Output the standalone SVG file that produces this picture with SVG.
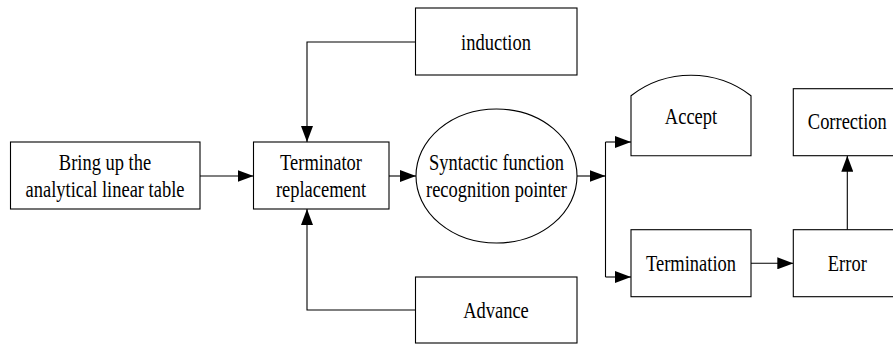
<svg xmlns="http://www.w3.org/2000/svg" width="893" height="344" viewBox="0 0 893 344">
<style>
.box{fill:#fff;stroke:#000;stroke-width:1.1}
.c{fill:none;stroke:#000;stroke-width:1.1}
text{font-family:"Liberation Serif","Times New Roman",serif;font-size:24px;fill:#000;text-anchor:middle}
</style>
<defs>
<marker id="ah" markerUnits="userSpaceOnUse" markerWidth="16" markerHeight="12" refX="16" refY="6" orient="auto">
<path d="M0,0 L16,6 L0,12 z" fill="#000"/>
</marker>
</defs>
<rect width="893" height="344" fill="#fff"/>
<g id="connectors">
<path class="c" d="M415.5,42 H307 V142" marker-end="url(#ah)"/>
<path class="c" d="M415.5,310 H307 V209" marker-end="url(#ah)"/>
<path class="c" d="M200,176 H253.5" marker-end="url(#ah)"/>
<path class="c" d="M389,176 H416" marker-end="url(#ah)"/>
<path class="c" d="M577,176 H605.5" marker-end="url(#ah)"/>
<path class="c" d="M605.5,142 V277"/>
<path class="c" d="M605.5,142 H631" marker-end="url(#ah)"/>
<path class="c" d="M605.5,277 H631" marker-end="url(#ah)"/>
<path class="c" d="M751,263.3 H793.3" marker-end="url(#ah)"/>
<path class="c" d="M847.3,229.7 V155.7" marker-end="url(#ah)"/>
</g>
<g id="bring">
<rect class="box" x="10.5" y="142" width="189.5" height="67"/>
<text transform="translate(105,169.5) scale(0.77,1)">Bring up the</text>
<text transform="translate(105,197) scale(0.77,1)">analytical linear table</text>
</g>
<g id="terminator">
<rect class="box" x="253.5" y="142" width="135.5" height="67"/>
<text transform="translate(321,169.5) scale(0.77,1)">Terminator</text>
<text transform="translate(321,197) scale(0.77,1)">replacement</text>
</g>
<g id="induction">
<rect class="box" x="415.5" y="8" width="161.5" height="67"/>
<text transform="translate(496,49.5) scale(0.77,1)">induction</text>
</g>
<g id="advance">
<rect class="box" x="415.5" y="277" width="161.5" height="66"/>
<text transform="translate(496,318) scale(0.77,1)">Advance</text>
</g>
<g id="syntactic">
<ellipse class="box" cx="496.5" cy="176" rx="80.5" ry="67"/>
<text transform="translate(496.5,169.5) scale(0.77,1)">Syntactic function</text>
<text transform="translate(496.5,197) scale(0.77,1)">recognition pointer</text>
</g>
<g id="accept">
<path class="box" d="M631,155.7 V95.7 A98.4,98.4 0 0 1 751,95.7 V155.7 Z"/>
<text transform="translate(691,124) scale(0.77,1)">Accept</text>
</g>
<g id="termination">
<rect class="box" x="631" y="229.7" width="120" height="67"/>
<text transform="translate(691,270.8) scale(0.77,1)">Termination</text>
</g>
<g id="error">
<rect class="box" x="793.3" y="229.7" width="110" height="67"/>
<text transform="translate(847.3,270.8) scale(0.77,1)">Error</text>
</g>
<g id="correction">
<rect class="box" x="793.3" y="88.7" width="110" height="67"/>
<text transform="translate(847.3,129.2) scale(0.77,1)">Correction</text>
</g>
</svg>
